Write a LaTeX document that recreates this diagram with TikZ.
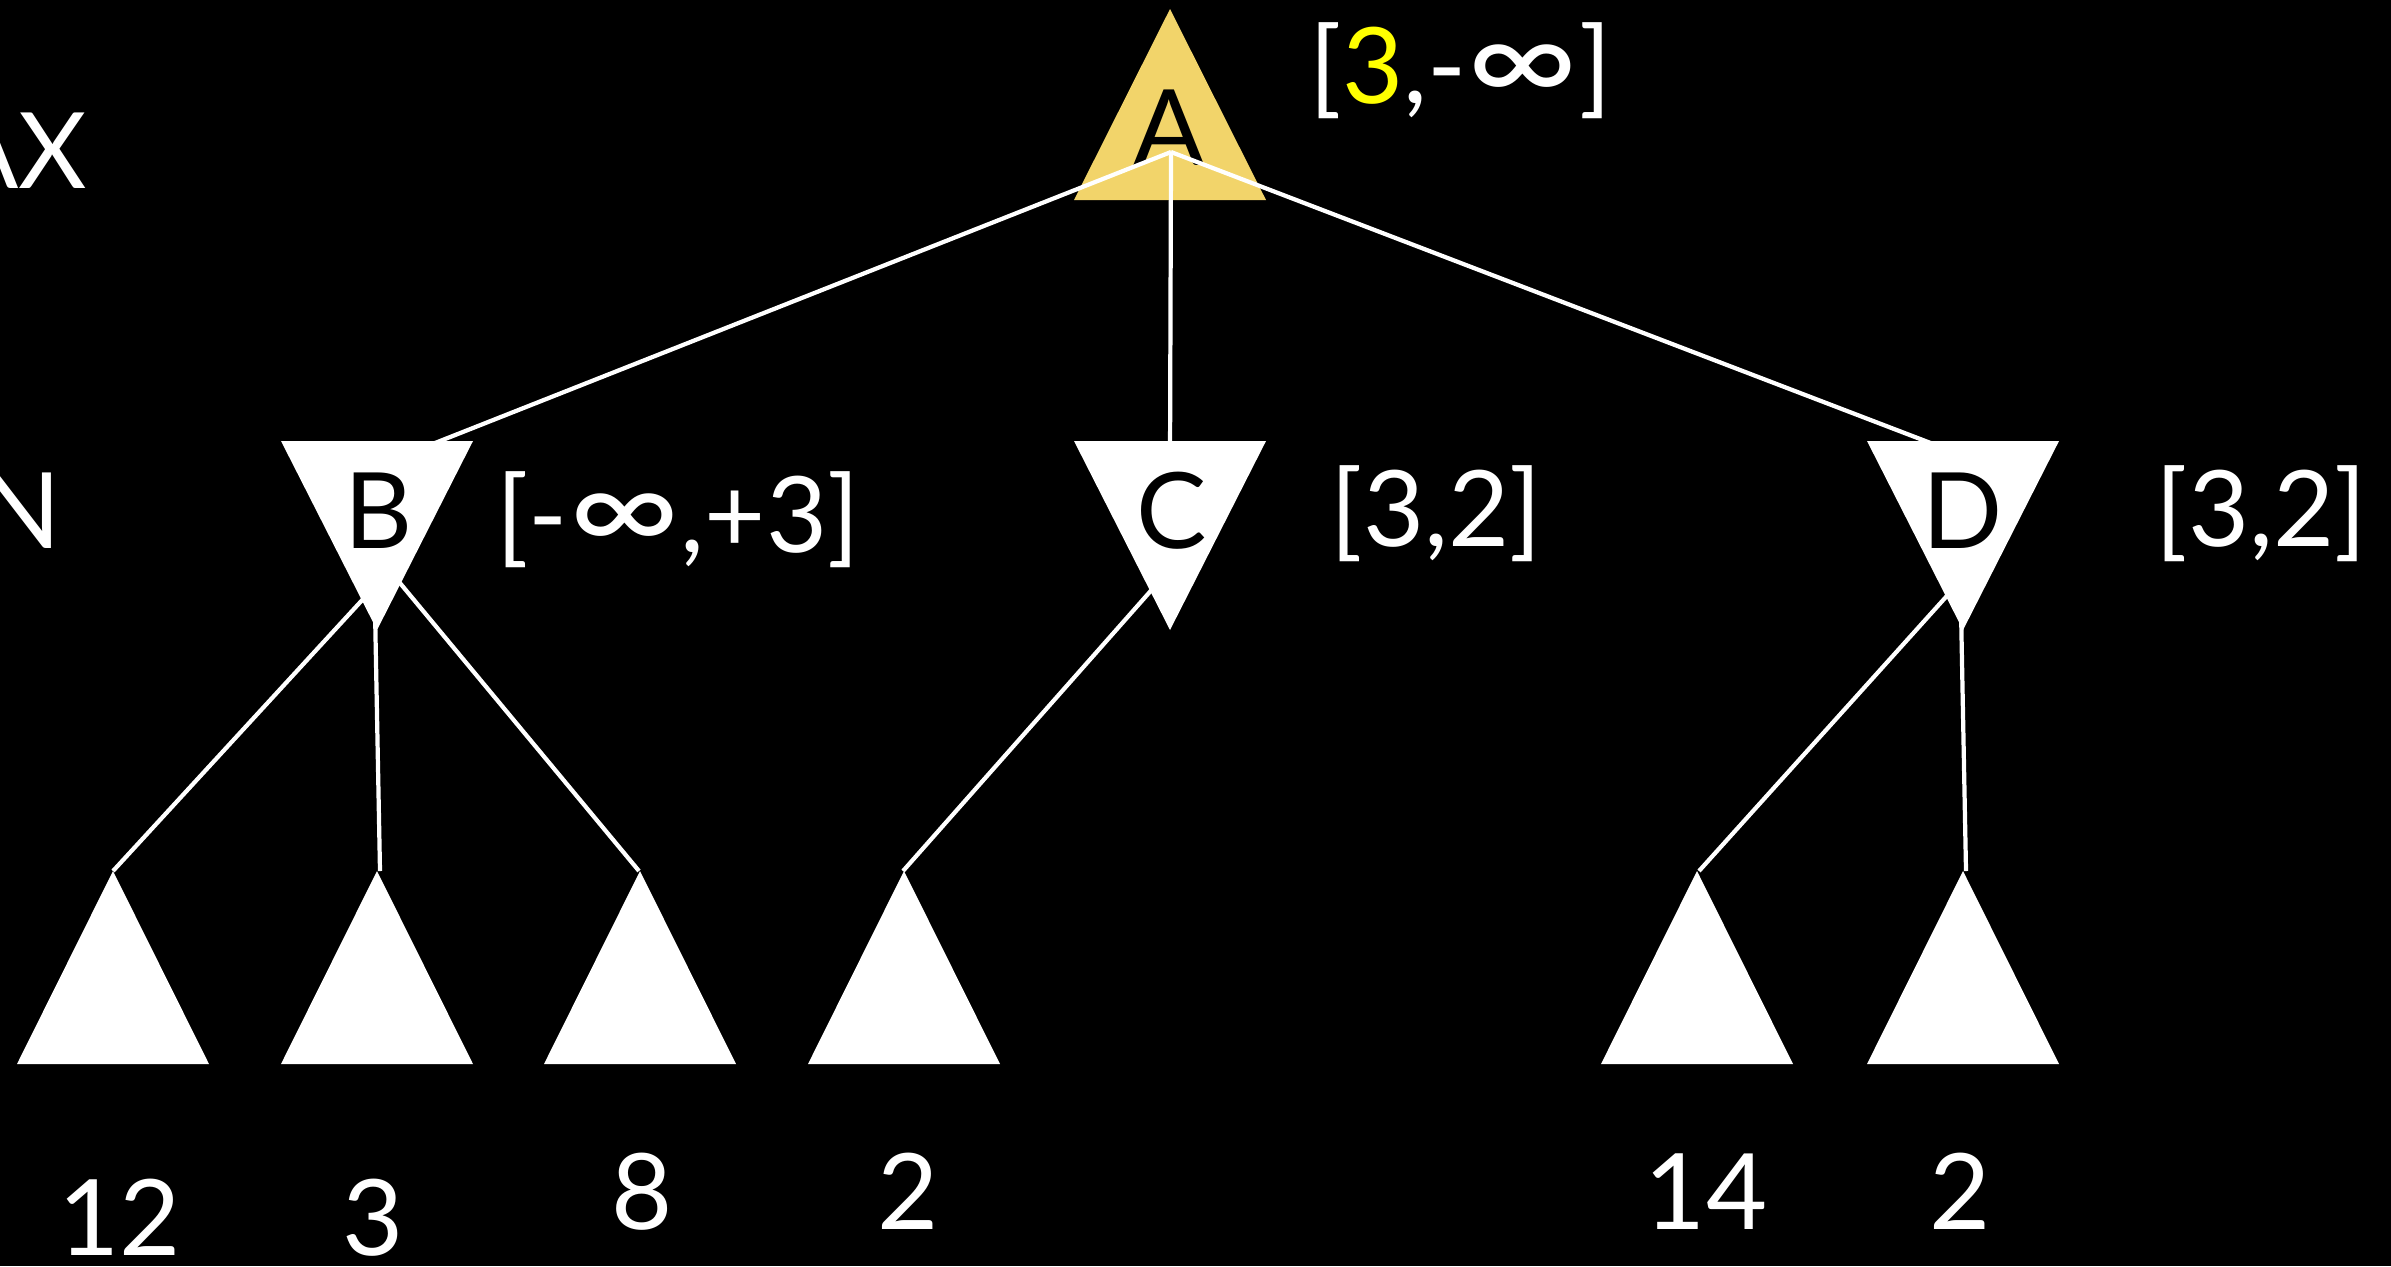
\documentclass[tikz,border=0pt]{standalone}
\usepackage{fontspec}
\setmainfont{Lato}
\definecolor{gold}{RGB}{242,212,106}
\definecolor{hiyellow}{RGB}{255,255,0}
% a wider infinity sign for the bounds
\newcommand{\wideinf}{\scalebox{1.45}[1.2]{∞}}
\begin{document}
\begin{tikzpicture}[x=0.01cm,y=-0.01cm,
  edge/.style={white,line width=1.2pt},
  lbl/.style={text=white,inner sep=0pt,font=\fontsize{30}{36}\selectfont},
  letter/.style={text=black,inner sep=0pt,font=\fontsize{30}{36}\selectfont,anchor=base},
  leafval/.style={lbl,anchor=base}]
\fill[black] (0,0) rectangle (2391,1266);
\useasboundingbox (0,0) rectangle (2391,1266);

% root (MAX) triangle
\fill[gold] (1074,200) -- (1170,9) -- (1266,200) -- cycle;
\node[letter] (A) at (1169,165) {A};
\coordinate (hub) at (1171,152);

% connection points hidden inside the MIN triangles
\coordinate (Bin) at (392,460);
\coordinate (Cin) at (1170,460);
\coordinate (Din) at (1975,460);
\coordinate (Bl) at (376,585);
\coordinate (Bm) at (375,610);
\coordinate (Br) at (387.5,568);
\coordinate (Cl) at (1163,577);
\coordinate (Dl) at (1958.5,583);
\coordinate (Dm) at (1961,610);

% leaf apexes
\coordinate (L1) at (113,871);
\coordinate (L2) at (380,871);
\coordinate (L3) at (639,871);
\coordinate (L4) at (903,871);
\coordinate (L5) at (1699,871);
\coordinate (L6) at (1966,871);

% edges
\draw[edge] (hub) -- (Bin);
\draw[edge] (hub) -- (Cin);
\draw[edge] (hub) -- (Din);
\draw[edge] (Bl) -- (L1);
\draw[edge] (Bm) -- (L2);
\draw[edge] (Br) -- (L3);
\draw[edge] (Cl) -- (L4);
\draw[edge] (Dl) -- (L5);
\draw[edge] (Dm) -- (L6);

% MIN triangles
\fill[white] (281,441) -- (473,441) -- (377,630) -- cycle;
\fill[white] (1074,441) -- (1266,441) -- (1170,630) -- cycle;
\fill[white] (1867,441) -- (2059,441) -- (1963,630) -- cycle;
\node[letter] (B) at (379,548) {B};
\node[letter] (C) at (1172,548) {C};
\node[letter] (D) at (1963,548) {D};

% leaf triangles
\foreach \x in {113,377,640,904,1697,1963}
  \fill[white] (\x-96,1064) -- (\x,871) -- (\x+96,1064) -- cycle;

% row captions
\node[lbl,anchor=base east] (max) at (88,188) {MAX};
\node[lbl,anchor=base east] (min) at (62,548) {MIN};

% bounds
\node[lbl,anchor=base west] (la) at (1309,103) {[\textcolor{hiyellow}{3},-\wideinf]};
\node[lbl,anchor=base west] (lb) at (496,552) {[-\wideinf,+3]};
\node[lbl,anchor=base west] (lc) at (1330,546) {[3,2]};
\node[lbl,anchor=base west] (ld) at (2155,546) {[3,2]};

% leaf values
\node[leafval] (v1) at (120,1255) {12};
\node[leafval] (v2) at (373,1255) {3};
\node[leafval] (v3) at (642,1229) {8};
\node[leafval] (v4) at (908,1229) {2};
\node[leafval] (v5) at (1706,1229) {14};
\node[leafval] (v6) at (1960,1229) {2};
\end{tikzpicture}
\end{document}
